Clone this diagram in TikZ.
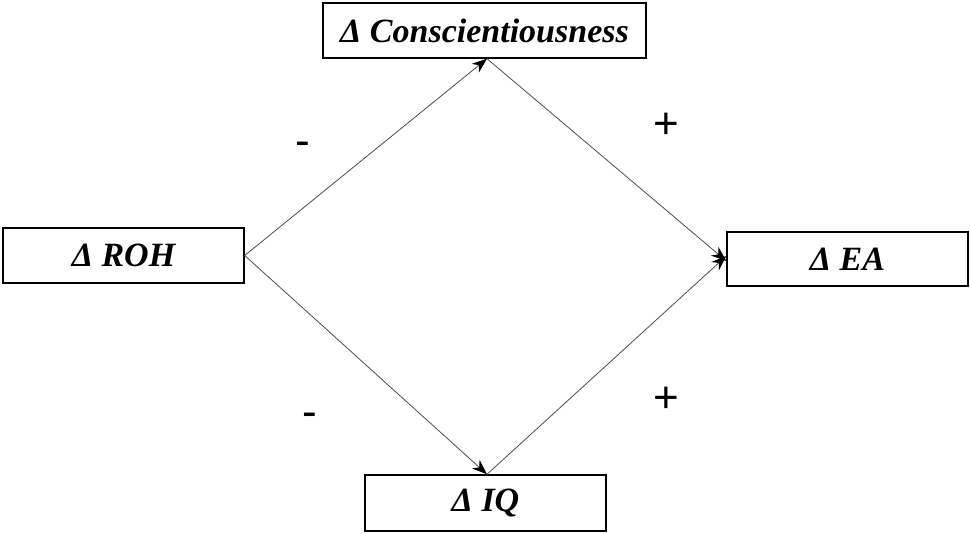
\documentclass[tikz,border=0pt]{standalone}
\usepackage{fontspec}
\setmainfont{Liberation Serif}
\newfontfamily\signfont{Liberation Sans}
\usetikzlibrary{arrows.meta}
\begin{document}
\begin{tikzpicture}[x=1pt,y=-1pt,
  box/.style={draw,line width=1.4pt,inner sep=0pt,font=\fontsize{34}{36}\selectfont\bfseries\itshape},
  link/.style={draw=black!70,line width=0.8pt,-{Stealth[scale=2.3,color=black]}},
  sign/.style={font=\signfont\fontsize{44}{44}\selectfont}]
\useasboundingbox (0,0) rectangle (970,534);
\node[box,minimum width=323pt,minimum height=55pt] (consc) at (484.5,30.5) {Δ Conscientiousness};
\node[box,minimum width=241pt,minimum height=55pt] (roh) at (123.5,255.5) {Δ ROH};
\node[box,minimum width=241pt,minimum height=54pt] (ea) at (847.5,259) {Δ EA};
\node[box,minimum width=241pt,minimum height=56pt] (iq) at (485.5,503) {Δ IQ};
\draw[link] (roh.east) -- ([xshift=2.5pt]consc.south);
\draw[link] ([xshift=2.5pt]consc.south) -- ([yshift=-2pt]ea.west);
\draw[link] (roh.east) -- ([xshift=1.5pt]iq.north);
\draw[link] ([xshift=1.5pt]iq.north) -- ([yshift=3pt]ea.west);
\node[sign] (m1) at (303,149) {-};
\node[sign] (p1) at (666,126) {+};
\node[sign] (m2) at (310,420) {-};
\node[sign] (p2) at (666,400) {+};
\end{tikzpicture}
\end{document}
